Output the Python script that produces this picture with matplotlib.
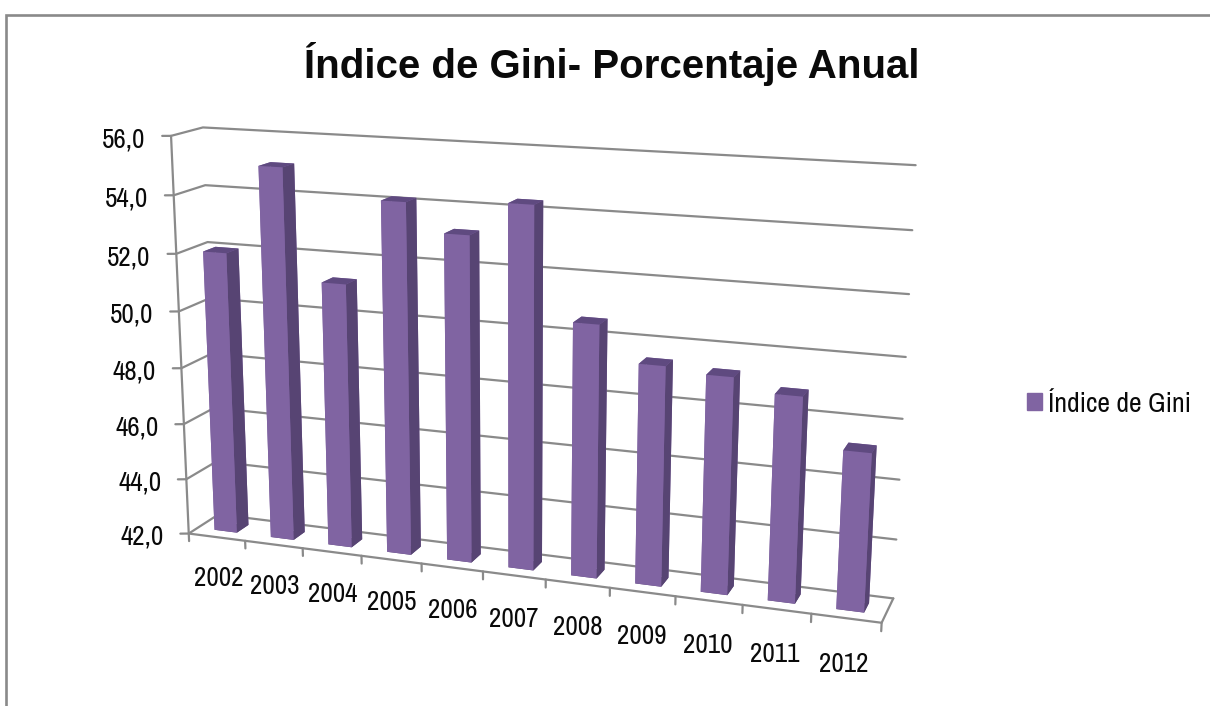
import numpy as np
import matplotlib
matplotlib.use('Agg')
import matplotlib.pyplot as plt
from matplotlib.patches import Patch, Rectangle
from mpl_toolkits.mplot3d import proj3d

years = ['2002', '2003', '2004', '2005', '2006', '2007', '2008', '2009', '2010', '2011', '2012']
gini = [52.0, 55.05, 51.25, 54.15, 53.2, 54.33, 50.6, 49.43, 49.27, 48.85, 47.25]
z_ticks = [42, 44, 46, 48, 50, 52, 54, 56]

plt.rcParams['font.family'] = ['Archivo Narrow', 'Liberation Sans', 'DejaVu Sans']

W, H = 1210, 706
GRID = '#8a8a8a'
TXT = '#0a0a0a'
n = len(years)

fig = plt.figure(figsize=(W / 100, H / 100), dpi=100)

# marco gris, solo se ve arriba y a la izquierda
fig.add_artist(Rectangle((6.2 / W, -0.05), 1.1, 1.05 - 14.7 / H, transform=fig.transFigure,
                         fill=False, ec=GRID, lw=1.9))

# camara ajustada a la perspectiva del grafico de Excel
ax = fig.add_axes([0, 0, 1, 1], projection='3d')
ax.view_init(elev=14.6278, azim=-70.3709, roll=-0.0664)
ax.set_proj_type('persp', focal_length=0.4358)
ax.set_box_aspect((1, 0.0899, 0.5762))
ax.set_xlim(0, n)
ax.set_ylim(0, 1)
ax.set_zlim(42, 56)
ax.set_axis_off()
ax.patch.set_alpha(0)
ax.computed_zorder = False

# coloca el eje para que la escala sea la del ajuste
s, cx, cy = 4515.11, 525.517, 362.874
vl = ax.viewLim
side = s * vl.width
left = cx + s * vl.x0
bottom = (H - cy) + s * vl.y0
ax.set_position([left / W, bottom / H, side / W, side / H])
M = ax.get_proj()


def line3(xs, ys, zs):
    ax.plot(xs, ys, zs, color=GRID, lw=1.6, zorder=1, solid_capstyle='round')


def label(x, y, z, s, **kw):
    # texto 2D en la posicion proyectada
    px, py, _ = proj3d.proj_transform(x, y, z, M)
    ax.text2D(px, py, s, transform=ax.transData, color=TXT, **kw)


# rejilla en pared izquierda y pared del fondo, con marca a la izquierda
for z in z_ticks:
    line3([-0.123, 0, 0, n], [-0.05, 0, 1, 1], [z, z, z, z])
    label(-0.36, -0.16, z - 0.12, f'{z:.1f}'.replace('.', ','), ha='right', va='center', fontsize=19.5)

# suelo y eje vertical
line3([0, 0], [0, 0], [42, 56])
line3([0, n, n], [0, 0, 1], [42, 42, 42])
for i in range(n + 1):
    line3([i, i], [0, 0], [42, 41.72])

# barras
x = np.arange(n) + 0.3
faces = ['#5a4776', '#5f4a80', '#8064a2', '#8064a2', '#8064a2', '#574473'] * n
ax.bar3d(x, np.full(n, 0.3), np.full(n, 42.0), 0.4, 0.4, np.array(gini) - 42,
         color=faces, shade=False, zorder=2, edgecolor='none')

for i, lab in enumerate(years):
    label(i + 0.5, 0, 40.45, lab, ha='center', va='center', fontsize=19.5)

fig.text(612 / W, 1 - 78 / H, 'Índice de Gini- Porcentaje Anual', ha='center', va='baseline',
         fontsize=29, fontweight='bold', color=TXT, family=['Liberation Sans', 'DejaVu Sans'])

fig.legend(handles=[Patch(color='#8064a2', label='Índice de Gini')], loc='center left',
           bbox_to_anchor=(1027 / W, 1 - 404 / H), frameon=False, fontsize=20, borderpad=0, borderaxespad=0,
           handlelength=0.54, handleheight=0.54, handletextpad=0.22, labelcolor=TXT)

fig.savefig('out.png', dpi=100)
